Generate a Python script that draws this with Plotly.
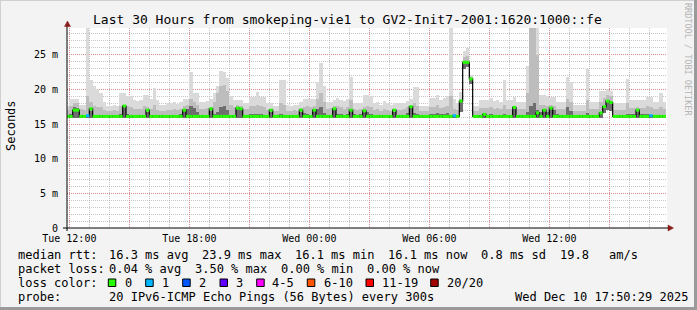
import numpy as np
import pandas as pd
import plotly.graph_objects as go

# ---------------- data (10-minute bins, Tue 2025-12-09 11:50 -> Wed 17:50) ----------------
bin_origin = "2025-12-09 11:50"
bin_minutes = 10

median_ms = [
    16.1, 16.1, 17.0, 17.0, 16.1, 16.1, 16.2, 17.2, 16.1, 16.1, 16.1, 16.1, 16.1, 16.1, 16.1, 16.1, 16.1, 17.6,
    16.1, 16.1, 16.1, 16.1, 16.1, 16.1, 17.0, 16.1, 16.1, 16.1, 16.1, 16.1, 16.1, 16.1, 16.1, 16.1, 16.1, 17.0,
    16.1, 16.1, 16.1, 16.1, 16.1, 16.1, 16.1, 17.2, 16.1, 16.1, 16.1, 16.1, 16.1, 16.1, 16.1, 17.3, 17.2, 16.1,
    16.1, 16.1, 16.1, 16.1, 16.1, 16.1, 16.1, 17.0, 16.1, 16.1, 16.1, 16.1, 16.1, 16.1, 16.1, 16.1, 17.0, 16.1,
    16.1, 16.1, 17.0, 16.1, 16.1, 16.1, 16.1, 16.1, 17.2, 16.1, 16.1, 16.1, 16.1, 17.0, 16.1, 16.1, 16.1, 16.9,
    16.1, 16.1, 16.1, 16.1, 16.1, 16.1, 16.1, 16.1, 17.0, 16.1, 16.1, 16.1, 16.1, 17.5, 16.1, 16.1, 16.1, 16.1,
    16.1, 16.1, 16.1, 16.1, 16.1, 16.1, 16.1, 16.1, 16.2, 16.1, 18.3, 23.9, 23.9, 21.5, 16.1, 16.1, 16.1, 16.4,
    16.1, 16.1, 16.1, 16.1, 16.1, 16.1, 16.1, 16.1, 17.4, 16.1, 16.1, 16.1, 16.1, 16.1, 16.1, 16.6, 16.1, 17.0,
    16.1, 17.3, 16.1, 16.1, 16.1, 16.1, 16.1, 16.1, 16.1, 16.1, 16.1, 16.1, 16.1, 16.1, 16.1, 16.1, 16.6, 17.5,
    18.3, 18.1, 16.1, 16.1, 16.1, 16.1, 16.1, 16.1, 16.1, 17.0, 16.1, 16.1, 16.1, 16.2, 16.1, 16.1, 16.1, 16.1,
]

loss_count = [
    0, 0, 0, 0, 0, 0, 1, 0, 0, 0, 0, 0, 0, 0, 0, 0, 0, 0,
    0, 0, 0, 0, 0, 0, 0, 0, 0, 0, 0, 0, 0, 0, 0, 0, 0, 0,
    0, 0, 0, 0, 0, 0, 0, 0, 0, 0, 0, 0, 0, 0, 0, 0, 0, 0,
    0, 0, 0, 0, 0, 0, 0, 0, 0, 0, 0, 0, 0, 0, 0, 0, 0, 0,
    0, 0, 0, 0, 0, 0, 0, 0, 0, 0, 0, 0, 0, 0, 0, 0, 0, 0,
    0, 0, 0, 0, 0, 0, 0, 0, 0, 0, 0, 0, 0, 0, 0, 0, 0, 0,
    0, 0, 0, 0, 0, 0, 0, 0, 1, 0, 0, 0, 0, 0, 0, 0, 0, 0,
    0, 0, 0, 0, 0, 0, 0, 0, 0, 0, 0, 0, 0, 0, 0, 0, 0, 0,
    0, 0, 0, 0, 0, 0, 0, 0, 0, 0, 0, 0, 0, 0, 0, 0, 0, 0,
    0, 0, 0, 0, 0, 0, 0, 0, 0, 0, 0, 0, 0, 1, 0, 0, 0, 0,
]

# lowest ping of each bin (bottom of the smoke)
smoke_floor_ms = [
    15.9, 15.9, 15.9, 15.9, 15.9, 15.9, 15.9, 15.9, 15.9, 15.9, 15.9, 15.9, 15.9, 15.9, 15.9, 15.9, 15.9, 15.9,
    15.9, 15.9, 15.9, 15.9, 15.9, 15.9, 15.9, 15.9, 15.9, 15.9, 15.9, 15.9, 15.9, 15.9, 15.9, 15.9, 15.9, 15.9,
    15.9, 15.9, 15.9, 15.9, 15.9, 15.9, 15.9, 15.9, 15.9, 15.9, 15.9, 15.9, 15.9, 15.9, 15.9, 15.9, 15.9, 15.9,
    15.9, 15.9, 15.9, 15.9, 15.9, 15.9, 15.9, 15.9, 15.9, 15.9, 15.9, 15.9, 15.9, 15.9, 15.9, 15.9, 15.9, 15.9,
    15.9, 15.9, 15.9, 15.9, 15.9, 15.9, 15.9, 15.9, 15.9, 15.9, 15.9, 15.9, 15.9, 15.9, 15.9, 15.9, 15.9, 15.9,
    15.9, 15.9, 15.9, 15.9, 15.9, 15.9, 15.9, 15.9, 15.9, 15.9, 15.9, 15.9, 15.9, 15.9, 15.9, 15.9, 15.9, 15.9,
    15.9, 15.9, 15.9, 15.9, 15.9, 15.9, 15.9, 15.9, 15.9, 15.9, 16.8, 23.0, 23.2, 20.8, 15.9, 15.9, 15.9, 15.9,
    15.9, 15.9, 15.9, 15.9, 15.9, 15.9, 15.9, 15.9, 15.9, 15.9, 15.9, 15.9, 15.9, 15.9, 15.9, 15.9, 15.9, 15.9,
    15.9, 15.9, 15.9, 15.9, 15.9, 15.9, 15.9, 15.9, 15.9, 15.9, 15.9, 15.9, 15.9, 15.9, 15.9, 15.9, 15.9, 16.6,
    17.0, 16.9, 15.9, 15.9, 15.9, 15.9, 15.9, 15.9, 15.9, 15.9, 15.9, 15.9, 15.9, 15.9, 15.9, 15.9, 15.9, 15.9,
]

smoke_hi_ms = [
    17.6, 18.6, 18.6, 18.6, 17.8, 17.8, 28.8, 21.4, 20.5, 20.0, 19.5, 18.2, 17.6, 17.6, 17.8, 17.6, 19.5, 19.5,
    19.0, 19.0, 18.5, 18.3, 18.5, 19.2, 19.2, 18.6, 20.2, 18.5, 17.8, 17.8, 18.0, 18.0, 18.2, 17.9, 18.2, 18.6,
    18.6, 22.5, 19.5, 19.5, 18.2, 18.2, 18.3, 18.6, 19.5, 20.5, 22.7, 22.5, 21.6, 19.0, 18.4, 18.4, 18.4, 18.0,
    18.0, 18.9, 18.9, 19.6, 18.9, 18.9, 18.0, 18.0, 17.6, 17.6, 21.3, 21.3, 17.8, 17.6, 17.8, 17.7, 18.2, 18.6,
    18.6, 18.6, 18.6, 21.0, 23.8, 20.5, 18.2, 18.2, 18.5, 18.7, 18.5, 18.3, 18.6, 21.8, 18.0, 18.0, 18.0, 19.2,
    19.2, 19.0, 18.0, 18.2, 17.8, 18.3, 18.0, 17.8, 18.0, 18.0, 18.0, 18.0, 18.3, 18.6, 20.3, 20.3, 17.6, 17.6,
    17.6, 18.7, 18.7, 19.2, 18.5, 18.7, 19.0, 28.8, 18.6, 18.0, 19.6, 25.5, 26.0, 22.0, 17.6, 17.6, 18.5, 18.5,
    18.5, 18.8, 18.3, 18.5, 18.2, 21.3, 18.4, 18.4, 18.9, 18.2, 18.2, 18.2, 23.3, 28.8, 28.8, 28.8, 19.2, 19.2,
    19.0, 18.9, 18.9, 18.2, 18.2, 18.2, 21.8, 21.0, 17.8, 17.8, 17.8, 17.8, 23.0, 18.2, 18.2, 18.2, 19.8, 19.8,
    20.0, 19.8, 18.0, 18.0, 18.0, 18.0, 21.5, 18.4, 18.4, 18.4, 18.4, 18.4, 18.9, 18.9, 18.2, 18.2, 19.5, 18.2,
]

smoke_mid_ms = [
    17.0, 17.6, 18.0, 18.0, 17.2, 17.0, 19.0, 18.2, 17.6, 17.4, 17.4, 17.0, 16.9, 16.9, 17.0, 16.9, 17.6, 17.8,
    17.6, 17.4, 17.2, 17.1, 17.2, 17.6, 17.4, 17.2, 17.8, 17.0, 16.9, 16.9, 17.0, 17.0, 17.2, 17.0, 17.2, 17.6,
    17.8, 18.6, 18.2, 17.8, 17.2, 17.2, 17.3, 17.5, 18.2, 19.5, 20.5, 20.6, 19.8, 17.8, 17.4, 17.8, 17.6, 17.2,
    17.2, 17.6, 17.6, 17.8, 17.6, 17.4, 17.0, 17.2, 16.9, 16.9, 18.0, 17.8, 16.9, 16.9, 17.0, 16.9, 17.3, 17.5,
    17.6, 17.4, 17.6, 18.6, 19.5, 18.2, 17.2, 17.3, 17.6, 17.6, 17.4, 17.2, 17.5, 18.4, 17.1, 17.0, 17.2, 17.5,
    17.6, 17.5, 17.0, 17.2, 16.9, 17.2, 17.0, 16.9, 17.2, 17.0, 17.0, 17.1, 17.4, 17.8, 18.0, 17.6, 16.9, 16.9,
    16.9, 17.4, 17.4, 17.8, 17.3, 17.4, 17.6, 19.0, 17.2, 17.0, 18.6, 24.6, 24.8, 21.8, 16.9, 16.9, 17.3, 17.3,
    17.3, 17.4, 17.2, 17.3, 17.1, 17.8, 17.2, 17.2, 17.6, 17.1, 17.1, 17.2, 19.5, 28.8, 28.8, 25.0, 17.8, 17.8,
    17.6, 17.8, 17.6, 17.1, 17.1, 17.1, 18.6, 18.2, 16.9, 16.9, 16.9, 16.9, 18.5, 17.1, 17.1, 17.2, 18.2, 18.8,
    19.2, 19.0, 17.0, 17.0, 17.0, 17.0, 18.0, 17.3, 17.3, 17.5, 17.3, 17.3, 17.6, 17.5, 17.1, 17.1, 17.4, 17.1,
]

smoke_lo_ms = [
    16.3, 16.5, 17.4, 17.3, 16.3, 16.3, 16.3, 16.9, 16.3, 16.3, 16.3, 16.3, 16.3, 16.3, 16.3, 16.3, 16.5, 17.4,
    16.4, 16.3, 16.3, 16.3, 16.3, 16.3, 16.8, 16.3, 16.3, 16.3, 16.3, 16.3, 16.3, 16.3, 16.3, 16.3, 16.5, 16.9,
    17.2, 17.6, 17.3, 16.8, 16.3, 16.3, 16.3, 16.9, 16.4, 16.8, 17.4, 17.6, 17.0, 16.3, 16.3, 17.2, 17.1, 16.3,
    16.3, 16.4, 16.4, 16.5, 16.4, 16.3, 16.3, 16.8, 16.3, 16.3, 16.4, 16.3, 16.3, 16.3, 16.3, 16.3, 16.8, 16.6,
    16.4, 16.3, 16.9, 17.2, 17.5, 16.6, 16.3, 16.3, 17.0, 16.5, 16.4, 16.3, 16.5, 17.0, 16.4, 16.3, 16.4, 16.8,
    16.7, 16.4, 16.3, 16.3, 16.3, 16.3, 16.3, 16.3, 16.8, 16.3, 16.3, 16.3, 16.6, 17.4, 16.6, 16.4, 16.3, 16.3,
    16.3, 16.4, 16.4, 16.6, 16.4, 16.4, 16.6, 16.3, 16.3, 16.3, 18.3, 23.9, 23.9, 21.5, 16.3, 16.3, 16.3, 16.4,
    16.3, 16.4, 16.3, 16.3, 16.3, 16.5, 16.3, 16.3, 17.2, 16.3, 16.3, 16.3, 16.8, 17.6, 18.0, 17.0, 16.8, 17.0,
    16.8, 17.3, 17.0, 16.4, 16.3, 16.3, 17.4, 16.9, 16.3, 16.3, 16.3, 16.3, 16.6, 16.3, 16.3, 16.3, 16.8, 17.6,
    18.4, 18.2, 16.3, 16.3, 16.3, 16.3, 16.5, 16.4, 16.4, 17.0, 16.4, 16.4, 16.4, 16.3, 16.3, 16.3, 16.3, 16.3,
]

x_tick_vals = ["2025-12-09 12:00", "2025-12-09 15:00", "2025-12-09 18:00", "2025-12-09 21:00",
               "2025-12-10 00:00", "2025-12-10 03:00", "2025-12-10 06:00", "2025-12-10 09:00",
               "2025-12-10 12:00", "2025-12-10 15:00"]
x_tick_text = ["Tue 12:00", "", "Tue 18:00", "", "Wed 00:00", "", "Wed 06:00", "", "Wed 12:00", ""]
y_tick_vals = [0, 5, 10, 15, 20, 25]
y_tick_text = ["0", "5 m", "10 m", "15 m", "20 m", "25 m"]
x_range = ["2025-12-09 11:53", "2025-12-10 17:53"]
y_range = [0, 28.85]

loss_labels = ["0", "1", "2", "3", "4-5", "6-10", "11-19", "20/20"]
loss_colors = ["#26ff00", "#00b8ff", "#0059ff", "#5e00ff", "#ff00ff", "#ff5500", "#ff0000", "#a10000"]

title_text = "Last 30 Hours from smokeping-vie1 to GV2-Init7-2001:1620:1000::fe"

# ---------------- geometry / styling ----------------
W, H = 697, 310
L, R, T, B = 67, 667, 28, 228
MONO = "DejaVu Sans Mono"


def px(x):
    return (x - L) / (R - L)


def py(y):
    return (B - y) / (B - T)


n = len(median_ms)
t0 = pd.Timestamp(bin_origin)
bin_start = t0 + pd.to_timedelta(np.arange(n) * bin_minutes, unit="min")
bin_end = bin_start + pd.Timedelta(minutes=bin_minutes)
bin_mid = bin_start + pd.Timedelta(minutes=bin_minutes / 2)
width_ms = bin_minutes * 60 * 1000

fig = go.Figure()

floor = np.array(smoke_floor_ms)
for vals, col in [(smoke_hi_ms, "#dadada"), (smoke_mid_ms, "#bdbdbd"), (smoke_lo_ms, "#6e6e6e")]:
    v = np.maximum(np.array(vals), floor)
    fig.add_trace(go.Bar(
        x=bin_mid, y=v - floor, base=floor, width=width_ms,
        marker=dict(color=col, line=dict(width=0)), hoverinfo="skip", showlegend=False))

# black median step line
fig.add_trace(go.Scatter(
    x=list(bin_start) + [bin_end[-1]], y=list(median_ms) + [median_ms[-1]],
    mode="lines", line=dict(color="black", width=1.2, shape="hv"),
    hoverinfo="skip", showlegend=False))


def loss_bucket(c):
    if c <= 3:
        return c
    if c <= 5:
        return 4
    if c <= 10:
        return 5
    if c <= 19:
        return 6
    return 7


# loss-coloured median segments
for k, col in enumerate(loss_colors):
    xs, ys = [], []
    for i in range(n):
        if loss_bucket(loss_count[i]) == k:
            xs += [bin_start[i], bin_end[i], None]
            ys += [median_ms[i], median_ms[i], None]
    if xs:
        fig.add_trace(go.Scatter(x=xs, y=ys, mode="lines", line=dict(color=col, width=3),
                                 hoverinfo="skip", showlegend=False))

major_grid = "rgba(225,120,120,0.75)"
minor_grid = "rgba(160,160,160,0.6)"

fig.update_layout(
    width=W, height=H,
    margin=dict(l=L, r=W - R, t=T, b=H - B, pad=0),
    paper_bgcolor="#f3f3f3", plot_bgcolor="#ffffff",
    barmode="overlay", bargap=0,
    showlegend=False,
    font=dict(family=MONO, size=10, color="black"),
    xaxis=dict(
        type="date", range=x_range, tickmode="array", tickvals=x_tick_vals, ticktext=x_tick_text,
        showgrid=True, gridcolor=major_grid, griddash="1px,1px", gridwidth=1,
        zeroline=False, showline=False, ticks="", ticklabelstandoff=3,
        tickfont=dict(family=MONO, size=10, color="black"),
        minor=dict(dtick=3600000, tick0="2025-12-09 12:00", showgrid=True,
                   gridcolor=minor_grid, griddash="1px,1px", gridwidth=1),
    ),
    yaxis=dict(
        range=y_range, tickmode="array", tickvals=y_tick_vals, ticktext=y_tick_text,
        showgrid=True, gridcolor=major_grid, griddash="1px,1px", gridwidth=1,
        zeroline=False, showline=False, ticks="", ticklabelstandoff=8,
        tickfont=dict(family=MONO, size=10, color="black"),
        minor=dict(dtick=1, tick0=0, showgrid=True, gridcolor=minor_grid,
                   griddash="1px,1px", gridwidth=1),
    ),
)

shapes = []
# outer frame: light top/left, dark bottom/right
shapes.append(dict(type="line", xref="paper", yref="paper", x0=px(0), x1=px(W), y0=py(0.5), y1=py(0.5),
                   line=dict(color="#d0d0d0", width=1)))
shapes.append(dict(type="line", xref="paper", yref="paper", x0=px(0.5), x1=px(0.5), y0=py(0), y1=py(H),
                   line=dict(color="#d0d0d0", width=1)))
shapes.append(dict(type="line", xref="paper", yref="paper", x0=px(0), x1=px(W), y0=py(H - 1.5), y1=py(H - 1.5),
                   line=dict(color="#9a9a9a", width=3)))
shapes.append(dict(type="line", xref="paper", yref="paper", x0=px(W - 1.5), x1=px(W - 1.5), y0=py(0), y1=py(H),
                   line=dict(color="#9a9a9a", width=3)))
# axes with arrows
shapes.append(dict(type="line", xref="paper", yref="paper", x0=px(63), x1=px(669), y0=py(B), y1=py(B),
                   line=dict(color="black", width=1), layer="above"))
shapes.append(dict(type="line", xref="paper", yref="paper", x0=px(L), x1=px(L), y0=py(231), y1=py(25),
                   line=dict(color="black", width=1), layer="above"))
shapes.append(dict(type="path", xref="paper", yref="paper",
                   path=f"M {px(64.5)} {py(26.5)} L {px(70.5)} {py(26.5)} L {px(67.5)} {py(21)} Z",
                   fillcolor="#8b1a1a", line=dict(color="#8b1a1a", width=0.5), layer="above"))
shapes.append(dict(type="path", xref="paper", yref="paper",
                   path=f"M {px(668)} {py(225)} L {px(668)} {py(231)} L {px(673.5)} {py(228)} Z",
                   fillcolor="#8b1a1a", line=dict(color="#8b1a1a", width=0.5), layer="above"))

annotations = []


def txt(x, y, s, size=12, color="black", anchor="left", angle=0):
    annotations.append(dict(x=px(x), y=py(y), xref="paper", yref="paper", text=s, showarrow=False,
                            xanchor=anchor, yanchor="middle", textangle=angle,
                            font=dict(family=MONO, size=size, color=color)))


txt(347.5, 19, title_text, size=13, anchor="center")
txt(11, 126, "Seconds", size=12, anchor="center", angle=-90)
txt(688, 59, "RRDTOOL / TOBI OETIKER", size=8.5, color="#b4b4b4", anchor="center", angle=90)

row1 = [(16, "median rtt:"), (107.3, "16.3 ms avg"), (200, "23.9 ms max"), (293, "16.1 ms min"),
        (386, "16.1 ms now"), (479.3, "0.8 ms sd"), (558.3, "19.8"), (607.3, "am/s")]
row2 = [(16, "packet loss:"), (107.3, "0.04 % avg"), (193, "3.50 % max"), (279.3, "0.00 % min"),
        (365, "0.00 % now")]
for x, s in row1:
    txt(x, 254.5, s)
for x, s in row2:
    txt(x, 268.5, s)
txt(16, 282.5, "loss color:")
sq_x = [108.3, 145.7, 182.7, 220, 256.7, 307.3, 366, 430.7]
lbl_x = [123.3, 160, 197, 234, 270, 321.7, 380, 445]
for sx, lx, lab, col in zip(sq_x, lbl_x, loss_labels, loss_colors):
    shapes.append(dict(type="rect", xref="paper", yref="paper", x0=px(sx), x1=px(sx + 7.5),
                       y0=py(286.5), y1=py(279), fillcolor=col, line=dict(color="black", width=1)))
    txt(lx, 282.5, lab)
txt(16, 296.5, "probe:")
txt(107.3, 296.5, "20 IPv6-ICMP Echo Pings (56 Bytes) every 300s")
txt(513.3, 296.5, "Wed Dec 10 17:50:29 2025")

fig.update_layout(shapes=shapes, annotations=annotations)
fig.write_html("out.html")
